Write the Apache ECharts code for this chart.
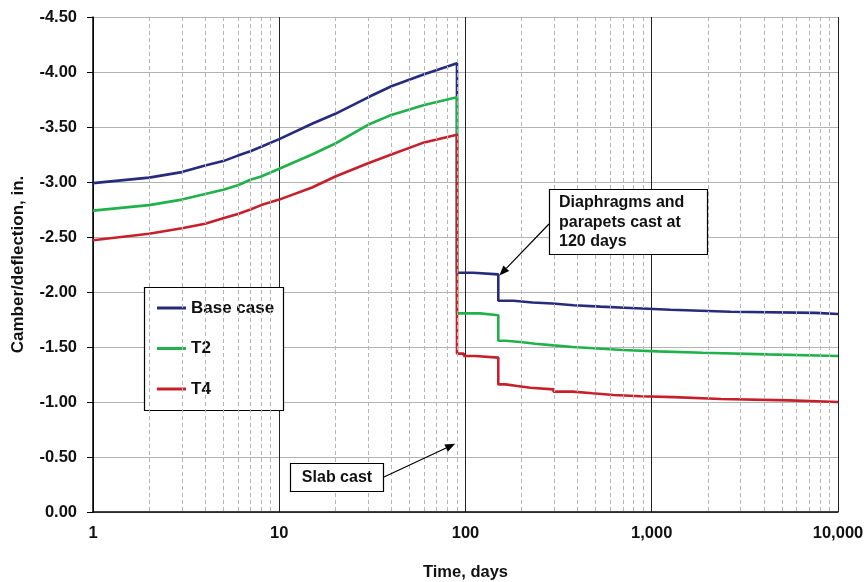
<!DOCTYPE html>
<html>
<head>
<meta charset="utf-8">
<script src="https://cdn.jsdelivr.net/npm/echarts@6/dist/echarts.min.js"></script>
<style>
  html, body { margin: 0; padding: 0; background: #fff; }
  #chart { width: 866px; height: 582px; }
</style>
</head>
<body>
<div id="chart"></div>
<script>
// time before slab cast (days) and camber values (in., negative = upward)
const riseDays = [1, 2, 3, 4, 5, 6, 7, 8, 10, 15, 20, 30, 40, 60, 80, 90];
const baseRise = [-2.99, -3.04, -3.09, -3.15, -3.19, -3.24, -3.28, -3.32, -3.39, -3.53, -3.62, -3.77, -3.87, -3.98, -4.05, -4.08];
const t2Rise = [-2.74, -2.79, -2.84, -2.89, -2.93, -2.97, -3.02, -3.05, -3.12, -3.25, -3.35, -3.52, -3.61, -3.70, -3.75, -3.77];
const t4Rise = [-2.47, -2.53, -2.58, -2.62, -2.67, -2.71, -2.75, -2.79, -2.84, -2.95, -3.05, -3.17, -3.25, -3.36, -3.41, -3.43];

// after slab cast: day where the level changes, and the level held from that day
const baseStepDays = [90, 110, 150, 181, 229, 293, 380, 531, 769, 1260, 2650, 7570, 10000];
const baseStepVals = [-2.175, -2.16, -1.92, -1.905, -1.895, -1.88, -1.867, -1.855, -1.838, -1.82, -1.81, -1.80, -1.80];
const t2StepDays = [90, 120, 150, 164, 197, 237, 297, 376, 487, 698, 1080, 1870, 4180, 10000];
const t2StepVals = [-1.806, -1.788, -1.557, -1.545, -1.53, -1.515, -1.50, -1.488, -1.473, -1.46, -1.448, -1.433, -1.418, -1.418];
const t4StepDays = [90, 98, 113, 150, 164, 190, 223, 297, 376, 480, 623, 870, 1310, 2350, 5480, 10000];
const t4StepVals = [-1.44, -1.418, -1.403, -1.16, -1.145, -1.13, -1.115, -1.094, -1.079, -1.064, -1.052, -1.044, -1.027, -1.015, -1.00, -1.00];

const seriesNames = ['Base case', 'T2', 'T4'];
const seriesColors = ['#262b7d', '#1fb24a', '#c6202b'];
const decades = [1, 10, 100, 1000];

const FONT = "'Liberation Sans', Arial, sans-serif";

function buildLine(days, vals, stepDays, stepVals) {
  const pts = days.map((d, i) => [d, vals[i]]);
  stepDays.forEach((d, i) => {
    if (i > 0) pts.push([d, stepVals[i - 1]]);
    pts.push([d, stepVals[i]]);
  });
  return pts;
}

// dashed minor grid lines at 2..9 of every decade
const minorLines = [];
decades.forEach(d => {
  for (let k = 2; k <= 9; k++) minorLines.push({ xAxis: d * k });
});

const chart = echarts.init(document.getElementById('chart'));

const lineData = [
  buildLine(riseDays, baseRise, baseStepDays, baseStepVals),
  buildLine(riseDays, t2Rise, t2StepDays, t2StepVals),
  buildLine(riseDays, t4Rise, t4StepDays, t4StepVals)
];

const series = [{
  name: 'grid',
  type: 'line',
  data: [],
  z: 1,
  silent: true,
  markLine: {
    silent: true,
    symbol: ['none', 'none'],
    label: { show: false },
    lineStyle: { color: '#b5b5b5', type: [4, 3], width: 1 },
    animation: false,
    data: minorLines
  }
}];
seriesNames.forEach((name, i) => {
  series.push({
    name: name,
    type: 'line',
    data: lineData[i],
    showSymbol: false,
    z: 3,
    color: seriesColors[i],
    lineStyle: { width: 2.6, color: seriesColors[i] }
  });
});

chart.setOption({
  animation: false,
  grid: { left: 93, right: 28, top: 17, bottom: 70, containLabel: false, outerBoundsMode: 'none' },
  xAxis: {
    type: 'log',
    logBase: 10,
    min: 1,
    max: 10000,
    name: 'Time, days',
    nameLocation: 'middle',
    nameGap: 52,
    nameTextStyle: { fontFamily: FONT, fontWeight: 'bold', fontSize: 16.5, color: '#111' },
    axisLine: { lineStyle: { color: '#000', width: 1.5 } },
    axisTick: { show: false },
    axisLabel: {
      margin: 12.5,
      fontFamily: FONT, fontWeight: 'bold', fontSize: 16.5, color: '#111',
      formatter: v => Math.round(v).toLocaleString('en-US')
    },
    splitLine: { show: true, lineStyle: { color: '#222', width: 1 } }
  },
  yAxis: {
    type: 'value',
    inverse: true,
    min: -4.5,
    max: 0,
    interval: 0.5,
    name: 'Camber/deflection, in.',
    nameLocation: 'middle',
    nameGap: 66,
    nameTextStyle: { fontFamily: FONT, fontWeight: 'bold', fontSize: 17, color: '#111' },
    axisLine: { show: true, lineStyle: { color: '#000', width: 1.5 } },
    axisTick: { show: true, inside: false, length: 6, lineStyle: { color: '#000' } },
    axisLabel: {
      margin: 16,
      fontFamily: FONT, fontWeight: 'bold', fontSize: 16.5, color: '#111',
      formatter: v => v.toFixed(2)
    },
    splitLine: { show: true, lineStyle: { color: '#b3b3b3', width: 1 } }
  },
  legend: {
    data: seriesNames,
    orient: 'vertical',
    left: 157,
    top: 299,
    padding: 0,
    itemGap: 22.5,
    itemWidth: 29,
    itemHeight: 3,
    icon: 'rect',
    z: 5,
    textStyle: { fontFamily: FONT, fontWeight: 'bold', fontSize: 17, color: '#111', lineHeight: 18 }
  },
  series: series
});

// annotations: boxes placed on the page, arrows pointing at data positions
function arrow(from, to) {
  const dx = to[0] - from[0], dy = to[1] - from[1];
  const len = Math.sqrt(dx * dx + dy * dy);
  const ux = dx / len, uy = dy / len;
  const hl = 10, hw = 4;
  const bx = to[0] - ux * hl, by = to[1] - uy * hl;
  return [
    { type: 'line', z: 20, shape: { x1: from[0], y1: from[1], x2: bx, y2: by },
      style: { stroke: '#000', lineWidth: 1.2 } },
    { type: 'polygon', z: 20,
      shape: { points: [to, [bx - uy * hw, by + ux * hw], [bx + uy * hw, by - ux * hw]] },
      style: { fill: '#000' } }
  ];
}

const diaTip = chart.convertToPixel({ gridIndex: 0 }, [152, -2.15]);
const slabTip = chart.convertToPixel({ gridIndex: 0 }, [88, -0.62]);

const graphics = [
  // legend frame
  { type: 'rect', z: 2, shape: { x: 144.5, y: 287.5, width: 139, height: 123 },
    style: { fill: '#fff', stroke: '#000', lineWidth: 1.2 } },
  { type: 'rect', z: 20, shape: { x: 549.5, y: 189.5, width: 158, height: 65 },
    style: { fill: '#fff', stroke: '#000', lineWidth: 1.2 } },
  { type: 'text', z: 21, style: {
      x: 559, y: 193, text: 'Diaphragms and\nparapets cast at\n120 days',
      font: 'bold 16px ' + FONT, fill: '#111', lineHeight: 19.5,
      align: 'left', verticalAlign: 'top' } },
  { type: 'rect', z: 20, shape: { x: 290.5, y: 463.5, width: 93, height: 28 },
    style: { fill: '#fff', stroke: '#000', lineWidth: 1.2 } },
  { type: 'text', z: 21, style: {
      x: 337, y: 478, text: 'Slab cast',
      font: 'bold 16px ' + FONT, fill: '#111',
      align: 'center', verticalAlign: 'middle' } }
].concat(arrow([549, 224], diaTip), arrow([384, 477], slabTip));

chart.setOption({ graphic: graphics });
</script>
</body>
</html>
